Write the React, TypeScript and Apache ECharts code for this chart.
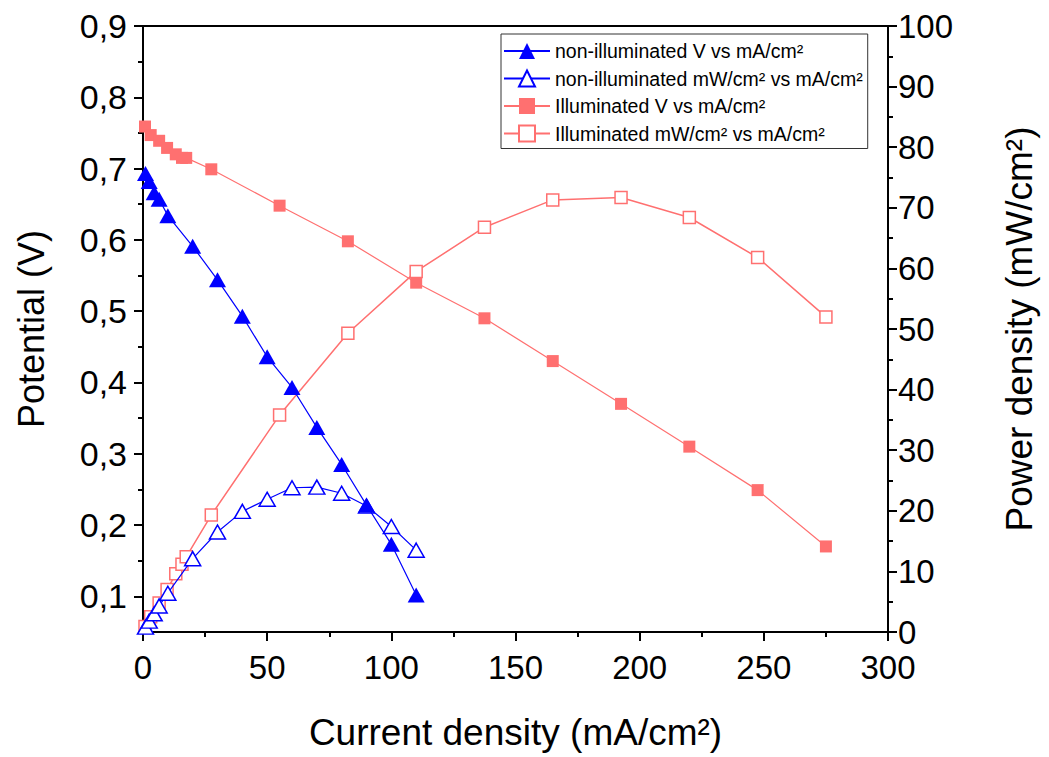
import React, { useEffect, useRef } from "react";
import * as echarts from "echarts";

// Non-illuminated cell
const niCurrent = [1, 2.5, 4.5, 6.5, 10, 20, 30, 40, 50, 60, 70, 80, 90, 100, 110];
const niVoltage = [0.693, 0.682, 0.666, 0.657, 0.634, 0.591, 0.544, 0.493, 0.436, 0.393, 0.337, 0.285, 0.228, 0.173, 0.102];
const niPower = [0.8, 1.8, 3.0, 4.3, 6.4, 12.1, 16.5, 19.9, 21.9, 23.8, 23.9, 22.9, 20.8, 17.4, 13.5];

// Illuminated cell
const ilCurrent = [0.8, 3.1, 6.5, 9.7, 13.2, 15.7, 17.4, 27.5, 55, 82.5, 110, 137.5, 165, 192.5, 220, 247.5, 275];
const ilVoltage = [0.759, 0.747, 0.739, 0.729, 0.72, 0.715, 0.715, 0.699, 0.648, 0.598, 0.54, 0.49, 0.43, 0.37, 0.31, 0.249, 0.17];
const ilPower = [0.9, 2.5, 4.8, 7.0, 9.6, 11.2, 12.4, 19.3, 35.8, 49.3, 59.5, 66.8, 71.3, 71.7, 68.4, 61.8, 52.0];

const vMajorTicks = [0.1, 0.2, 0.3, 0.4, 0.5, 0.6, 0.7, 0.8, 0.9];

const seriesNames = [
  "non-illuminated V vs mA/cm²",
  "non-illuminated mW/cm² vs mA/cm²",
  "Illuminated V vs mA/cm²",
  "Illuminated mW/cm² vs mA/cm²",
];

const BLUE = "#0000FF";
const RED = "#FF7070";
const FONT = "'Liberation Sans', Arial, sans-serif";

const zip = (xs: number[], ys: number[]) => xs.map((x, i) => [x, ys[i]]);

export default function App() {
  const ref = useRef<HTMLDivElement>(null);
  useEffect(() => {
    if (!ref.current) return;
    const chart = echarts.init(ref.current, null, { renderer: "svg" });
    const axisLine = { show: true, lineStyle: { color: "#000", width: 2 } };
    const tickStyle = { color: "#000", width: 2 };
    chart.setOption({
      animation: false,
      backgroundColor: "#fff",
      textStyle: { fontFamily: FONT },
      grid: {
        left: 143,
        right: 161,
        top: 26,
        bottom: 125,
        show: true,
        borderColor: "#000",
        borderWidth: 2,
        backgroundColor: "transparent",
      },
      legend: {
        orient: "vertical",
        left: 501,
        top: 34,
        padding: [7, 5, 5, 2],
        itemWidth: 46,
        itemHeight: 20,
        itemGap: 7.5,
        borderColor: "#333",
        borderWidth: 1,
        backgroundColor: "#fff",
        textStyle: { fontSize: 19.5, color: "#000", fontFamily: FONT },
        data: seriesNames,
      },
      xAxis: [
        {
          type: "value",
          min: 0,
          max: 300,
          interval: 50,
          position: "bottom",
          axisLine,
          axisTick: { show: true, length: 9, lineStyle: tickStyle },
          minorTick: { show: true, splitNumber: 2, length: 5, lineStyle: tickStyle },
          splitLine: { show: false },
          minorSplitLine: { show: false },
          axisLabel: { fontSize: 33, color: "#000", margin: 19, fontFamily: FONT },
          name: "Current density (mA/cm²)",
          nameLocation: "middle",
          nameGap: 82,
          nameTextStyle: { fontSize: 37, color: "#000", fontFamily: FONT },
        },
      ],
      yAxis: [
        {
          type: "value",
          min: 0.05,
          max: 0.9,
          position: "left",
          axisLine,
          axisTick: { show: true, length: 9, lineStyle: tickStyle, customValues: vMajorTicks },
          splitLine: { show: false },
          axisLabel: {
            fontSize: 34,
            color: "#000",
            margin: 16,
            fontFamily: FONT,
            customValues: vMajorTicks,
            formatter: (v: number) => v.toFixed(1).replace(".", ","),
          },
          name: "Potential (V)",
          nameLocation: "middle",
          nameGap: 94,
          nameTextStyle: { fontSize: 36, color: "#000", fontFamily: FONT },
        },
        {
          type: "value",
          min: 0,
          max: 100,
          interval: 10,
          position: "right",
          axisLine,
          axisTick: { show: true, length: 9, lineStyle: tickStyle },
          minorTick: { show: true, splitNumber: 2, length: 5, lineStyle: tickStyle },
          splitLine: { show: false },
          minorSplitLine: { show: false },
          axisLabel: { fontSize: 33, color: "#000", margin: 10, fontFamily: FONT },
          name: "Power density (mW/cm²)",
          nameLocation: "middle",
          nameGap: 113,
          nameTextStyle: { fontSize: 37, color: "#000", fontFamily: FONT },
        },
        {
          type: "value",
          min: 0.05,
          max: 0.9,
          interval: 0.05,
          position: "left",
          axisLine: { show: false },
          axisTick: { show: true, length: 5, lineStyle: tickStyle },
          axisLabel: { show: false },
          splitLine: { show: false },
        },
      ],
      series: [
        {
          name: seriesNames[0],
          type: "line",
          xAxisIndex: 0,
          yAxisIndex: 0,
          data: zip(niCurrent, niVoltage),
          symbol: "triangle",
          symbolSize: [17, 15],
          itemStyle: { color: BLUE },
          lineStyle: { color: BLUE, width: 1.2 },
          z: 4,
        },
        {
          name: seriesNames[1],
          type: "line",
          xAxisIndex: 0,
          yAxisIndex: 1,
          data: zip(niCurrent, niPower),
          symbol: "triangle",
          symbolSize: [16, 14],
          itemStyle: { color: "#fff", borderColor: BLUE, borderWidth: 1.5 },
          lineStyle: { color: BLUE, width: 1.2 },
          z: 3,
        },
        {
          name: seriesNames[2],
          type: "line",
          xAxisIndex: 0,
          yAxisIndex: 0,
          data: zip(ilCurrent, ilVoltage),
          symbol: "rect",
          symbolSize: 12,
          itemStyle: { color: RED },
          lineStyle: { color: RED, width: 1.2 },
          z: 2,
        },
        {
          name: seriesNames[3],
          type: "line",
          xAxisIndex: 0,
          yAxisIndex: 1,
          data: zip(ilCurrent, ilPower),
          symbol: "rect",
          symbolSize: 12,
          itemStyle: { color: "#fff", borderColor: RED, borderWidth: 1.5 },
          lineStyle: { color: RED, width: 1.5 },
          z: 2,
        },
      ],
    });
    return () => chart.dispose();
  }, []);
  return (
    <div
      ref={ref}
      style={{ position: "fixed", left: 0, top: 0, width: 1049, height: 757, background: "#fff" }}
    />
  );
}
